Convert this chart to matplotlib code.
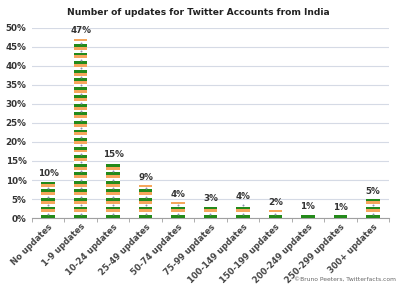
import numpy as np
import matplotlib
matplotlib.use("Agg")
import matplotlib.pyplot as plt

categories = ["No updates", "1-9 updates", "10-24 updates", "25-49 updates", "50-74 updates",
              "75-99 updates", "100-149 updates", "150-199 updates", "200-249 updates",
              "250-299 updates", "300+ updates"]
values = [9.6, 47.2, 14.6, 8.6, 4.1, 3.1, 3.6, 2.0, 0.9, 0.8, 5.0]
yticks = [0, 5, 10, 15, 20, 25, 30, 35, 40, 45, 50]

unit = 2.25
stripes = [("#238a1a", 0.0, 0.34), ("#ffffff", 0.34, 0.32), ("#f6a65c", 0.66, 0.34)]

fig = plt.figure(figsize=(4, 2.88), dpi=100)
ax = fig.add_axes([0.08, 0.243, 0.8925, 0.66])

x = np.arange(len(categories))
w = 0.42
for i, v in enumerate(values):
    nunits = int(np.ceil(v / unit))
    for k in range(nunits):
        base = k * unit
        for col, off, h in stripes:
            b = base + off * unit
            hh = min(h * unit, v - b)
            if hh > 0:
                ax.bar(x[i], hh, bottom=b, width=w, color=col, edgecolor="none",
                       zorder=3, linewidth=0)
        dot = base + 0.5 * unit
        if dot < v:
            ax.plot(x[i], dot, marker="o", ms=1.4, color="#8a94b0", mec="none", zorder=4)
    ax.text(x[i], v + 0.9, f"{round(v)}%", ha="center", va="bottom", fontsize=6.3,
            fontweight="bold", color="#333333", zorder=5)

ax.set_xlim(-0.5, len(categories) - 0.5)
ax.set_ylim(0, 50)
ax.set_yticks(yticks)
ax.set_yticklabels([f"{t}%" for t in yticks], fontsize=6.3, fontweight="bold", color="#333333")
ax.yaxis.grid(True, color="#d5dae5", lw=0.8, zorder=0)
ax.tick_params(axis="y", length=0, pad=4)
ax.set_xticks(x)
ax.set_xticklabels(categories, rotation=45, ha="right", rotation_mode="anchor",
                   fontsize=6.0, fontweight="bold", color="#444444")
ax.tick_params(axis="x", which="major", length=0, pad=3)
ax.set_xticks(np.arange(-0.5, len(categories), 1), minor=True)
ax.tick_params(axis="x", which="minor", length=3, color="#a0a0a0", direction="out")
for s in ["left", "right", "top"]:
    ax.spines[s].set_visible(False)
ax.spines["bottom"].set_color("#a0a0a0")
ax.set_axisbelow(True)

fig.text(0.495, 0.958, "Number of updates for Twitter Accounts from India", ha="center",
         va="center", fontsize=6.6, fontweight="bold", color="#222222")
fig.text(0.99, 0.02, "\u00a9Bruno Peeters, Twitterfacts.com", ha="right", va="bottom",
         fontsize=4.3, color="#666666")

fig.savefig("out.png", dpi=100)
